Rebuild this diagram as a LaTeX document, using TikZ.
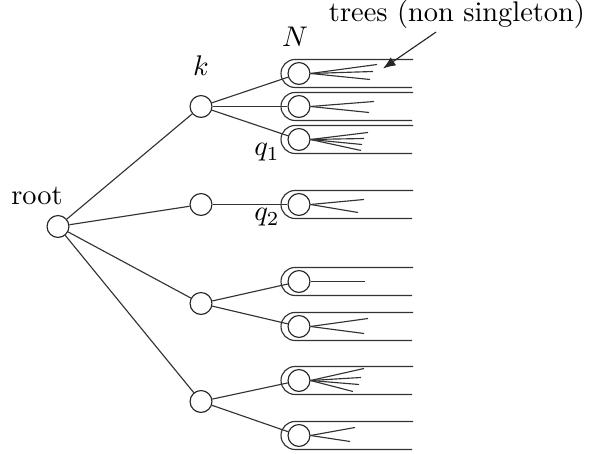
\documentclass[tikz,border=0pt]{standalone}
\usepackage{amsmath}
\usetikzlibrary{arrows.meta}

\begin{document}
\begin{tikzpicture}[
  x=0.352pt, y=-0.352pt, >=Latex,
  nd/.style={draw=black!85, circle, inner sep=0pt, minimum size=7.7pt},
  ln/.style={draw=black!80, line width=0.4pt},
  ar/.style={->, line width=0.4pt, black!85, -{Latex[length=4.4pt,width=3.4pt]}},
  lbl/.style={inner sep=0pt}]
\useasboundingbox (0,0) rectangle (593,454);

\begin{scope}[yshift=-0.176pt]
% ================= levels: root, k, N =================
\node[nd] (root) at (58,226) {};
\node[lbl] (rootlab) at (37,195) {root};
\node[lbl] (klab) at (201,65) {$k$};
\node[lbl] (Nlab) at (295,36) {$N$};

\foreach \i/\y in {1/106, 2/204, 3/303, 4/401}{
  \node[nd] (k\i) at (201,\y) {};
  \draw[ln] (root) -- (k\i);
}

% trees: circle, U-shaped hull, fan of branches
\foreach \n/\y/\ends in {
    1/73/{78/-9,74/-2,71/6},
    2/106/{75/-5,70/6},
    3/139/{69/-7,65/-1,63/5,62/11},
    4/204/{65/-5,59/8},
    5/281/{66/0},
    6/326/{69/-8,65/7},
    7/380/{65/-12,62/-3,60/4,54/11},
    8/435/{56/-8,51/6}}{
  \node[nd] (t\n) at (299,\y) {};
  \draw[ln] (413,\y-14) -- (295,\y-14)
    arc[start angle=270, end angle=90, radius=14] -- (412,\y+14);
  \foreach \dx/\dy in \ends
    \draw[ln] (t\n.east) -- ([shift={(\dx,\dy)}]t\n.center);
}

\draw[ln] (k1) -- (t1);
\draw[ln] (k1) -- (t2);
\draw[ln] (k1) -- (t3);
\draw[ln] (k2) -- (t4);
\draw[ln] (k3) -- (t5);
\draw[ln] (k3) -- (t6);
\draw[ln] (k4) -- (t7);
\draw[ln] (k4) -- (t8);

\node[lbl] (q1) at (267,152) {$q_1$};
\node[lbl] (q2) at (267,217) {$q_2$};

% ================= annotation =================
\node[lbl] (trees) at (457,14) {trees (non singleton)};
\coordinate (tip) at (383,68);
\draw[ar] ([xshift=-7.4pt,yshift=-1pt]trees.south) -- (tip);
\end{scope}
\end{tikzpicture}
\end{document}
